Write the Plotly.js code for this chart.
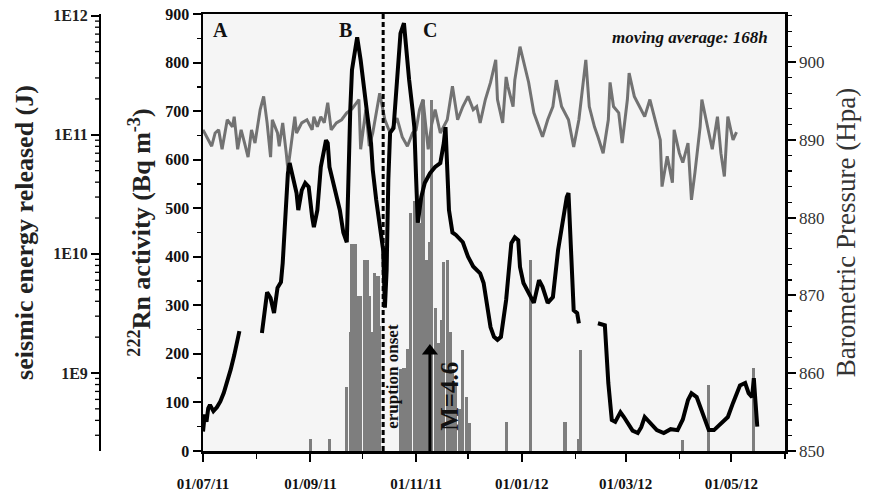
<!DOCTYPE html>
<html>
<head>
<meta charset="utf-8">
<script src="https://cdn.plot.ly/plotly-3.0.1.min.js"></script>
<style>html,body{margin:0;padding:0;background:#fff}#chart{width:870px;height:490px}</style>
</head>
<body>
<div id="chart"></div>
<script>
// Radon activity (Bq m-3), moving average 168h; null = data gap
const rnDates = [
 '2011-07-01','2011-07-02','2011-07-03','2011-07-04','2011-07-05','2011-07-07','2011-07-09','2011-07-11','2011-07-13','2011-07-15','2011-07-17','2011-07-19','2011-07-21','2011-07-22',
 '2011-07-28',
 '2011-08-04','2011-08-06','2011-08-07','2011-08-09','2011-08-11','2011-08-13','2011-08-15','2011-08-16','2011-08-17','2011-08-18','2011-08-19','2011-08-20','2011-08-22','2011-08-24','2011-08-25','2011-08-27','2011-08-29','2011-08-31',
 '2011-09-02','2011-09-03','2011-09-05','2011-09-07','2011-09-10','2011-09-11','2011-09-12','2011-09-15','2011-09-18','2011-09-20','2011-09-22','2011-09-24','2011-09-25','2011-09-27','2011-09-28','2011-09-30',
 '2011-10-02','2011-10-04','2011-10-06','2011-10-07','2011-10-09','2011-10-11','2011-10-13','2011-10-14','2011-10-15','2011-10-16','2011-10-17','2011-10-19','2011-10-21','2011-10-23','2011-10-25','2011-10-27','2011-10-28','2011-10-30','2011-10-31',
 '2011-11-01','2011-11-02','2011-11-04','2011-11-06','2011-11-09','2011-11-12','2011-11-15','2011-11-17','2011-11-18','2011-11-19','2011-11-20','2011-11-22','2011-11-24','2011-11-28',
 '2011-12-01','2011-12-04','2011-12-08','2011-12-10','2011-12-12','2011-12-14','2011-12-16','2011-12-18','2011-12-20','2011-12-23','2011-12-26','2011-12-28','2011-12-30','2011-12-31',
 '2012-01-02','2012-01-06','2012-01-08','2012-01-11','2012-01-13','2012-01-16','2012-01-19','2012-01-22','2012-01-25','2012-01-27','2012-01-28','2012-01-29','2012-01-30','2012-01-31',
 '2012-02-02','2012-02-03',
 '2012-02-08',
 '2012-02-14','2012-02-18','2012-02-20','2012-02-22','2012-02-24','2012-02-27','2012-02-29',
 '2012-03-02','2012-03-05','2012-03-08','2012-03-10','2012-03-12','2012-03-15','2012-03-17','2012-03-19','2012-03-23','2012-03-27','2012-03-31',
 '2012-04-03','2012-04-06','2012-04-08','2012-04-11','2012-04-14','2012-04-18','2012-04-21','2012-04-25','2012-04-29',
 '2012-05-02','2012-05-06','2012-05-09','2012-05-11','2012-05-13','2012-05-14','2012-05-15','2012-05-16'
];
const rnValues = [
 40,75,60,88,95,82,90,102,120,142,168,197,225,247,
 null,
 243,290,327,315,284,336,348,387,455,523,572,593,558,531,496,537,552,544,
 482,461,496,585,640,634,585,537,496,450,430,702,785,830,852,805,
 737,688,634,579,517,461,414,295,372,560,655,665,760,860,881,800,764,702,667,
 564,470,523,552,572,585,593,634,667,579,496,450,445,430,
 400,380,366,346,300,255,235,229,235,311,428,440,434,379,
 346,317,305,352,338,305,317,414,482,523,531,449,346,290,
 284,263,
 null,
 263,259,140,64,60,80,70,
 58,42,37,49,70,58,49,43,37,45,43,
 65,105,119,111,80,43,43,56,70,
 99,135,140,119,111,150,99,50
];

// Barometric pressure (hPa)
const pDates = [
 '2011-07-01','2011-07-04','2011-07-06','2011-07-08','2011-07-10','2011-07-12','2011-07-14','2011-07-15','2011-07-18','2011-07-19','2011-07-21','2011-07-23','2011-07-25','2011-07-27','2011-07-29','2011-07-31',
 '2011-08-03','2011-08-05','2011-08-07','2011-08-09','2011-08-10','2011-08-13','2011-08-14','2011-08-16','2011-08-18','2011-08-19','2011-08-21','2011-08-23','2011-08-24','2011-08-27','2011-08-30',
 '2011-09-02','2011-09-03','2011-09-05','2011-09-07','2011-09-09','2011-09-11','2011-09-13','2011-09-16','2011-09-19','2011-09-22','2011-09-25','2011-09-29','2011-09-30',
 '2011-10-03','2011-10-05','2011-10-07','2011-10-11','2011-10-14','2011-10-17','2011-10-21','2011-10-24','2011-10-27','2011-10-30',
 '2011-11-01','2011-11-03','2011-11-05','2011-11-08','2011-11-10','2011-11-12','2011-11-15','2011-11-17','2011-11-19','2011-11-22','2011-11-25','2011-11-28',
 '2011-12-01','2011-12-04','2011-12-06','2011-12-08','2011-12-11','2011-12-14','2011-12-17','2011-12-18','2011-12-21','2011-12-23','2011-12-24','2011-12-27','2011-12-28','2011-12-31',
 '2012-01-02','2012-01-05','2012-01-08','2012-01-11','2012-01-13','2012-01-16','2012-01-19','2012-01-21','2012-01-24','2012-01-28','2012-01-31',
 '2012-02-03','2012-02-05','2012-02-07','2012-02-09','2012-02-12','2012-02-14','2012-02-17','2012-02-20','2012-02-21','2012-02-23','2012-02-26','2012-02-28',
 '2012-03-02','2012-03-03','2012-03-06','2012-03-09','2012-03-12','2012-03-15','2012-03-18','2012-03-21','2012-03-22','2012-03-25','2012-03-28','2012-03-29',
 '2012-04-01','2012-04-03','2012-04-06','2012-04-08','2012-04-10','2012-04-13','2012-04-14','2012-04-17','2012-04-20','2012-04-23','2012-04-25','2012-04-27','2012-04-29',
 '2012-05-02','2012-05-04'
];
const pValues = [
 891.3,890.0,889.2,890.9,891.3,888.8,891.3,892.6,891.7,893.0,888.8,891.3,889.6,887.8,891.3,889.6,
 893.9,895.6,892.2,887.8,892.6,890.9,889.2,892.2,888.4,886.2,889.6,893.0,890.9,892.2,892.6,
 891.3,893.0,891.7,893.0,892.2,894.8,891.3,892.2,892.6,893.5,894.0,895.2,888.8,
 893.9,889.2,890.9,896.0,892.6,890.9,892.8,890.4,889.2,890.9,
 891.3,893.9,895.2,888.8,892.0,893.9,890.9,891.7,892.6,896.9,892.6,894.3,
 895.6,893.9,894.3,892.2,895.2,897.4,900.3,895.2,892.2,898.1,896.9,894.3,897.7,902.0,
 900.3,897.4,893.5,891.7,890.4,892.6,894.3,897.7,894.3,892.6,889.1,
 892.6,896.5,900.3,894.3,891.7,890.4,888.3,892.6,897.4,894.3,893.5,889.6,
 895.2,898.6,895.6,894.3,893.0,895.2,892.6,890.0,884.0,887.9,884.5,891.3,
 888.3,887.1,889.6,882.3,885.8,891.7,895.2,892.2,888.8,893.0,888.3,885.3,893.0,
 890.0,891.0
];

// Seismic energy released per day (J)
const seisDates = [
 '2011-09-01','2011-09-12','2011-09-22','2011-09-24','2011-09-25','2011-09-27','2011-09-29','2011-09-30',
 '2011-10-02','2011-10-04','2011-10-05','2011-10-07','2011-10-08','2011-10-10','2011-10-11',
 '2011-10-23','2011-10-25','2011-10-27','2011-10-29','2011-10-31',
 '2011-11-02','2011-11-03','2011-11-05','2011-11-07','2011-11-09','2011-11-10','2011-11-12','2011-11-14','2011-11-16','2011-11-17','2011-11-19','2011-11-21','2011-11-22','2011-11-24','2011-11-26','2011-11-28','2011-11-30',
 '2011-12-02','2011-12-23','2012-01-06','2012-01-26','2012-02-03','2012-02-04','2012-04-03','2012-04-18','2012-05-14'
];
const seisEnergy = [
 2.8e8,2.8e8,7.6e8,2.2e9,1.2e10,1.2e10,4.4e9,4.4e9,
 8.9e9,8.9e9,4.4e9,2.2e9,6.9e9,6.5e9,2.5e9,
 1.07e9,1.1e9,1.6e9,2.2e10,2.8e10,
 2.0e10,1.8e10,1.95e11,8.9e9,1.26e10,1.95e11,3.5e9,1.8e9,2.8e9,8.5e9,8.9e9,2.2e9,1.07e9,8e8,5e8,1.55e9,6.3e8,
 3.8e8,3.9e8,8.9e9,3.9e8,2.8e8,1.55e9,2.75e8,8e8,1.1e9
];

const eruptionOnset = '2011-10-13';
const m46Date = '2011-11-09';
const m46ArrowTop = 206;   // Rn-axis level of the arrow head
const seisTickVals = [1e9, 1e10, 1e11, 1e12];
const seisTickText = ['1E9', '1E10', '1E11', '1E12'];
const seisLogRange = [8.345, 12.014];

const serif = 'Liberation Serif, Times New Roman, serif';

const traces = [
  {type: 'bar', x: seisDates, y: seisEnergy, yaxis: 'y', xaxis: 'x',
   marker: {color: '#7e7e7e', line: {width: 0}}, width: 1.8 * 86400000, hoverinfo: 'x+y'},
  {type: 'scatter', mode: 'lines', x: pDates, y: pValues, yaxis: 'y2', xaxis: 'x',
   line: {color: '#727272', width: 3}},
  {type: 'scatter', mode: 'lines', x: rnDates, y: rnValues, yaxis: 'y3', xaxis: 'x',
   connectgaps: false, line: {color: '#000', width: 4}},
  {type: 'scatter', mode: 'markers', x: [m46Date], y: [m46ArrowTop], yaxis: 'y3', xaxis: 'x',
   marker: {symbol: 'triangle-up', size: 14, color: '#000'}, hoverinfo: 'skip'}
];

const shapes = [
  {type: 'line', xref: 'x', yref: 'paper', x0: eruptionOnset, x1: eruptionOnset, y0: 0, y1: 1,
   line: {color: '#000', width: 3, dash: '5px,3px'}},
  {type: 'line', xref: 'x', yref: 'y3', x0: m46Date, x1: m46Date, y0: 0, y1: m46ArrowTop,
   line: {color: '#000', width: 3}}
];
// minor log ticks on the seismic axis (axis decoration, placed in paper units)
const span = seisLogRange[1] - seisLogRange[0];
for (let e = 8; e <= 11; e++) {
  for (let m = 2; m <= 9; m++) {
    const lv = e + Math.log10(m);
    if (lv <= seisLogRange[0] || lv >= seisLogRange[1]) continue;
    const py = (lv - seisLogRange[0]) / span;
    shapes.push({type: 'line', xref: 'paper', yref: 'paper', x0: -5 / 685, x1: 0, y0: py, y1: py,
                 layer: 'above', line: {color: '#000', width: 1.3}});
  }
}

const layout = {
  width: 870, height: 490,
  margin: {l: 100, r: 85, t: 14, b: 39},
  paper_bgcolor: '#ffffff',
  plot_bgcolor: '#f5f5f5',
  showlegend: false,
  bargap: 0,
  font: {family: serif, color: '#111'},
  xaxis: {
    type: 'date', domain: [0.1504, 1], range: ['2011-07-01', '2012-06-01'],
    tick0: '2011-07-01', dtick: 'M2', tickformat: '%d/%m/%y',
    ticks: 'outside', ticklen: 8, tickwidth: 2, tickcolor: '#000', ticklabelstandoff: 9,
    minor: {dtick: 'M1', tick0: '2011-07-01', ticks: 'outside', ticklen: 5, tickwidth: 1.5, tickcolor: '#000'},
    showline: true, linewidth: 2.5, linecolor: '#000', mirror: true,
    showgrid: false, zeroline: false,
    tickfont: {family: serif, size: 15, color: '#111', weight: 'bold'}
  },
  yaxis: {
    type: 'log', range: seisLogRange, anchor: 'free', position: 0, side: 'left',
    tickmode: 'array', tickvals: seisTickVals, ticktext: seisTickText,
    ticks: 'outside', ticklen: 8, tickwidth: 2, tickcolor: '#000',
    showline: true, linewidth: 2, linecolor: '#000', showgrid: false, zeroline: false,
    tickfont: {family: serif, size: 16, color: '#222', weight: 'bold'},
    title: {text: 'seismic energy released (J)', standoff: 11,
            font: {family: serif, size: 26, color: '#222', weight: 'bold'}}
  },
  yaxis2: {
    overlaying: 'y', anchor: 'x', side: 'right', range: [850, 906.2],
    tick0: 850, dtick: 10,
    ticks: 'outside', ticklen: 8, tickwidth: 2, tickcolor: '#000',
    minor: {dtick: 2, ticks: 'outside', ticklen: 4, tickwidth: 1.2, tickcolor: '#000'},
    showline: true, linewidth: 2.5, linecolor: '#000', showgrid: false, zeroline: false,
    tickfont: {family: serif, size: 17, color: '#333'},
    title: {text: 'Barometric Pressure (Hpa)', standoff: 13,
            font: {family: serif, size: 27, color: '#333'}}
  },
  yaxis3: {
    overlaying: 'y', anchor: 'x', side: 'left', range: [0, 900],
    tick0: 0, dtick: 100,
    ticks: 'outside', ticklen: 8, tickwidth: 2, tickcolor: '#000',
    minor: {dtick: 50, ticks: 'outside', ticklen: 4, tickwidth: 1.5, tickcolor: '#000'},
    showline: true, linewidth: 2.5, linecolor: '#000', showgrid: false, zeroline: false,
    tickfont: {family: serif, size: 16, color: '#111', weight: 'bold'},
    title: {text: '<sup>222</sup>Rn activity (Bq m<sup>-3</sup>)', standoff: 7,
            font: {family: serif, size: 26, color: '#222', weight: 'bold'}}
  },
  shapes: shapes,
  annotations: [
    {xref: 'paper', yref: 'paper', x: 0.1752, y: 0.963, xanchor: 'center', yanchor: 'middle', text: 'A', showarrow: false,
     font: {family: serif, size: 20, color: '#111', weight: 'bold'}},
    {xref: 'paper', yref: 'paper', x: 0.359, y: 0.963, xanchor: 'center', yanchor: 'middle', text: 'B', showarrow: false,
     font: {family: serif, size: 20, color: '#111', weight: 'bold'}},
    {xref: 'paper', yref: 'paper', x: 0.4818, y: 0.963, xanchor: 'center', yanchor: 'middle', text: 'C', showarrow: false,
     font: {family: serif, size: 20, color: '#111', weight: 'bold'}},
    {xref: 'paper', yref: 'paper', x: 0.978, y: 0.947, xanchor: 'right', yanchor: 'middle', text: 'moving average: 168h', showarrow: false,
     font: {family: serif, size: 17, color: '#111', weight: 'bold', style: 'italic'}},
    {xref: 'paper', yref: 'paper', x: 0.4277, y: 0.172, xanchor: 'center', yanchor: 'middle', text: 'eruption onset', textangle: -90, showarrow: false,
     font: {family: serif, size: 17, color: '#111', weight: 'bold'}},
    {xref: 'paper', yref: 'paper', x: 0.511, y: 0.124, xanchor: 'center', yanchor: 'middle', text: 'M=4.6', textangle: -90, showarrow: false,
     font: {family: serif, size: 25, color: '#111', weight: 'bold'}}
  ]
};

Plotly.newPlot('chart', traces, layout, {displayModeBar: false, staticPlot: true});
</script>
</body>
</html>
